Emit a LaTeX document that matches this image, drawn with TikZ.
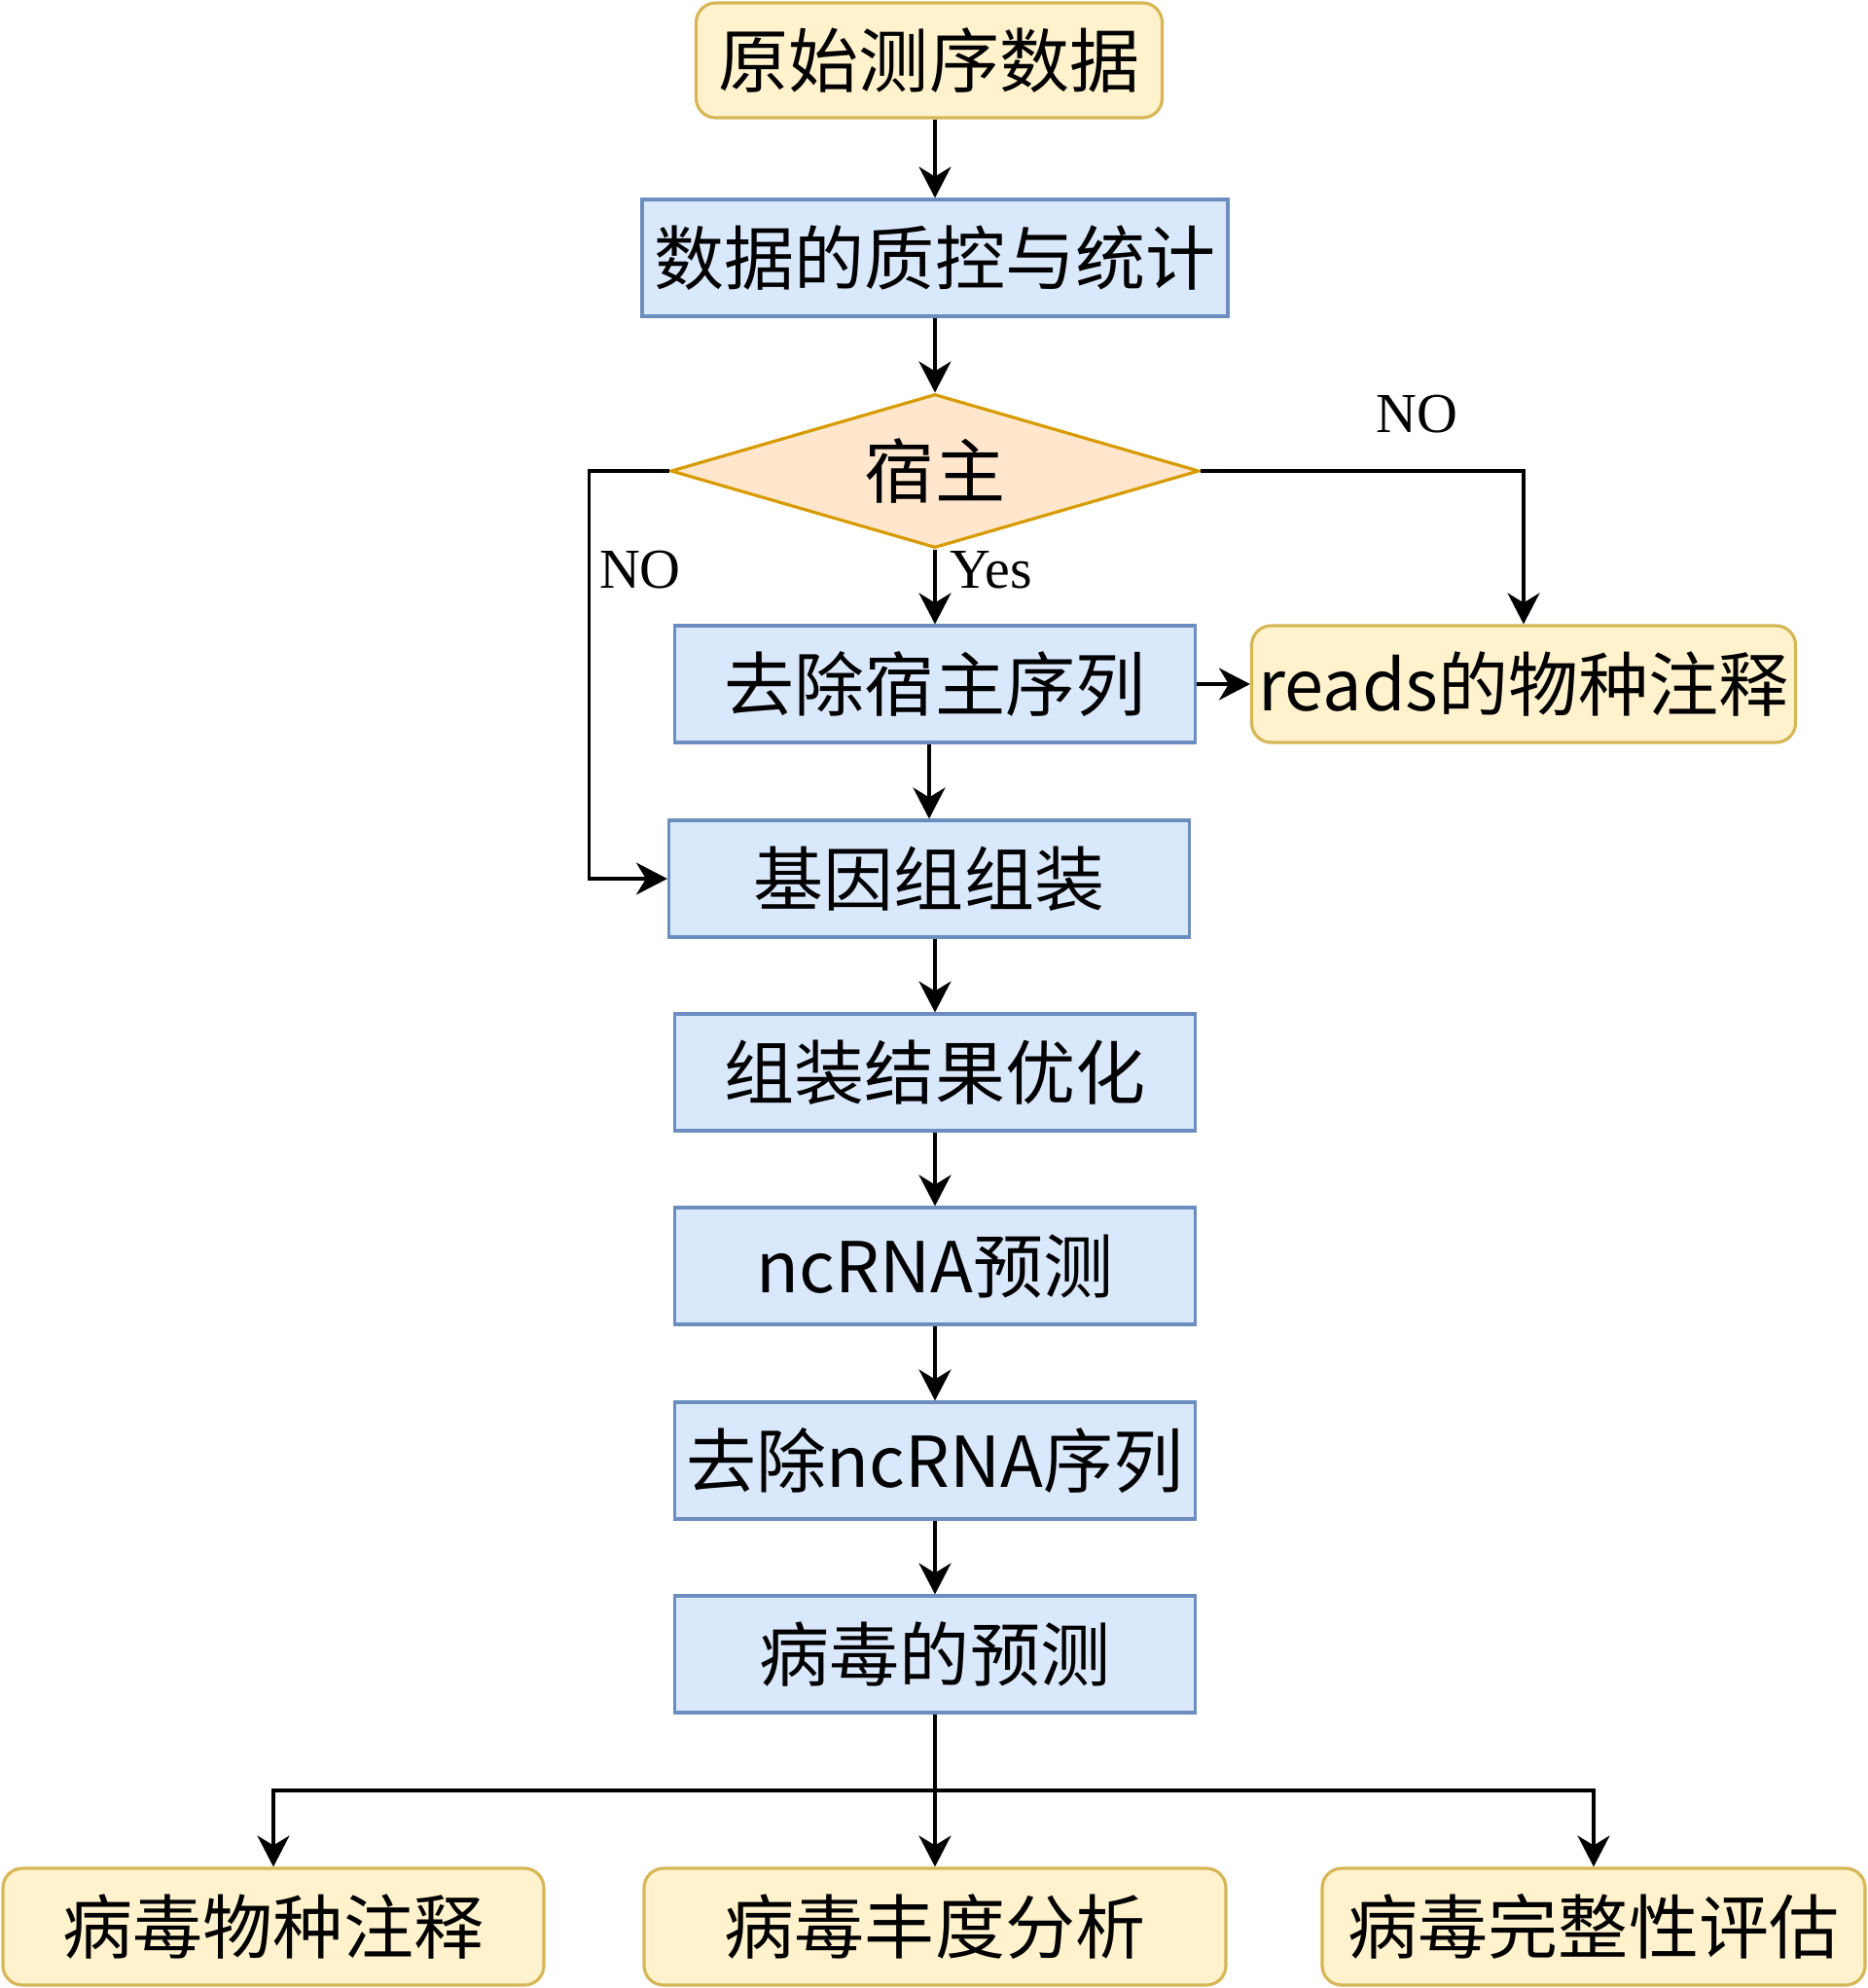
\documentclass[tikz,border=0pt]{standalone}
\usepackage{fontspec}
\newfontfamily\cjk{Noto Sans CJK SC}
\newfontfamily\lblfont{Liberation Serif}
\usepackage{tikz}
\usetikzlibrary{shapes, arrows.meta, positioning, calc, shapes.geometric}
\usepackage{xcolor}
\definecolor{procfill}{HTML}{DAE8FC}
\definecolor{procline}{HTML}{6C8EBF}
\definecolor{termfill}{HTML}{FFF2CC}
\definecolor{termline}{HTML}{D6B656}
\definecolor{hostfill}{HTML}{FFE6CC}
\definecolor{hostline}{HTML}{D79B00}

\begin{document}
\begin{tikzpicture}[
  every node/.style={font=\cjk\fontsize{41}{49}\selectfont, inner sep=0pt},
  proc/.style={rectangle, draw=procline, fill=procfill, line width=1.8pt,
               minimum width=10.7cm, minimum height=2.4cm},
  term/.style={rectangle, rounded corners=0.4cm, draw=termline, fill=termfill,
               line width=1.8pt, minimum height=2.4cm},
  decide/.style={diamond, draw=hostline, fill=hostfill, line width=1.8pt,
                 minimum width=10.86cm, minimum height=3.16cm, aspect=3.4},
  lbl/.style={font=\lblfont\fontsize{33}{37}\selectfont},
  flow/.style={line width=1.9pt, -{Stealth[length=0.64cm, width=0.66cm, inset=0.2cm]}}
]
\useasboundingbox (0,0) rectangle (38.4,-40.86);

% Main column
\node[term, minimum width=9.58cm, minimum height=2.36cm] (raw) at (19.1,-1.24) {原始测序数据};
\node[proc, minimum width=12.04cm] (qc) at (19.22,-5.3) {数据的质控与统计};
\node[decide] (host) at (19.22,-9.68) {宿主};
\node[proc] (rmhost) at (19.22,-14.06) {去除宿主序列};
\node[term, minimum width=11.18cm] (reads) at (31.32,-14.06) {reads的物种注释};
\node[proc] (asm) at (19.1,-18.06) {基因组组装};
\node[proc] (opt) at (19.22,-22.04) {组装结果优化};
\node[proc] (ncrna) at (19.22,-26.02) {ncRNA预测};
\node[proc] (rmnc) at (19.22,-30.02) {去除ncRNA序列};
\node[proc] (vpred) at (19.22,-34.0) {病毒的预测};

% Three results at the bottom
\node[term, minimum width=11.12cm] (vtax) at (5.62,-39.6) {病毒物种注释};
\node[term, minimum width=11.96cm] (vabund) at (19.22,-39.6) {病毒丰度分析};
\node[term, minimum width=11.16cm] (vcomp) at (32.76,-39.6) {病毒完整性评估};

% Branch labels
\node[lbl] (noright) at (29.12,-8.52) {NO};
\node[lbl] (noleft) at (13.16,-11.72) {NO};
\node[lbl] (yes) at (20.38,-11.72) {Yes};

% Connectors
\draw[flow] (raw.south -| qc.north) -- (qc.north);
\draw[flow] (qc.south) -- (host.north);
\draw[flow] (host.south) -- (rmhost.north);
\draw[flow] (host.east) -| (reads.north);
\draw[flow] (host.west) -- ++(-1.65,0) |- (asm.west);
\draw[flow] (rmhost.east) -- (reads.west);
\draw[flow] (rmhost.south -| asm.north) -- (asm.north);
\draw[flow] (asm.south -| opt.north) -- (opt.north);
\foreach \a/\b in {opt/ncrna, ncrna/rmnc, rmnc/vpred}{
  \draw[flow] (\a.south) -- (\b.north);
}

\coordinate (split) at ($(vpred.south)!0.5!(vabund.north)$);
\draw[flow] (vpred.south) -- (vabund.north);
\draw[flow] (split) -| (vtax.north);
\draw[flow] (split) -| (vcomp.north);

\end{tikzpicture}
\end{document}
